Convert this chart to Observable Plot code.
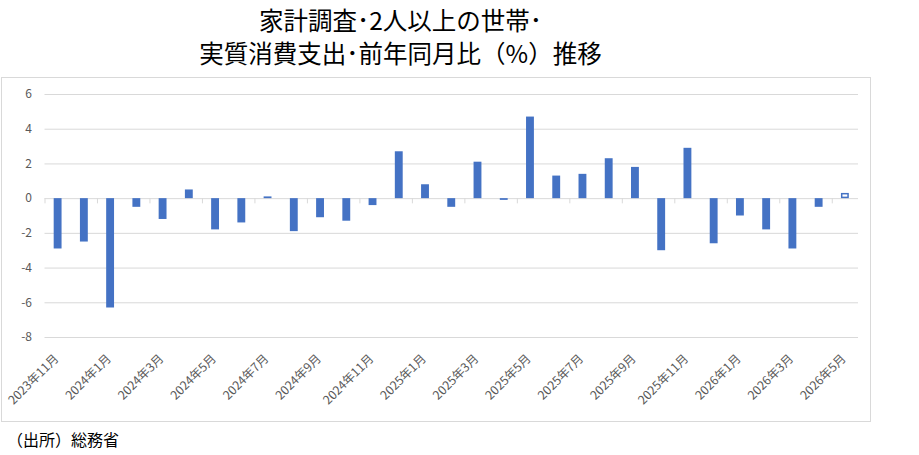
<!DOCTYPE html>
<html><head><meta charset="utf-8">
<script src="https://cdn.jsdelivr.net/npm/d3@7"></script>
<script src="https://cdn.jsdelivr.net/npm/@observablehq/plot@0.6"></script>
<style>
html,body{margin:0;padding:0;background:#fff;}
body{width:919px;height:455px;position:relative;overflow:hidden;font-family:"Noto Sans CJK JP","Noto Sans",sans-serif;}
#title{position:absolute;left:0;top:3px;width:801px;text-align:center;font-size:24.5px;line-height:33px;color:#000;}
#frame{position:absolute;left:1px;top:77px;width:870px;height:345px;border:1px solid #d9d9d9;box-sizing:border-box;}
#chart{position:absolute;left:0;top:77px;}
#caption{position:absolute;left:7px;top:429px;font-size:16px;line-height:20px;color:#000;}
</style></head><body>
<div id="title">家計調査･2人以上の世帯･<br>実質消費支出･前年同月比（%）推移</div>
<div id="frame"></div>
<div id="chart"></div>
<div id="caption">（出所）総務省</div>
<script>
const months = [
  "2023年11月","2023年12月","2024年1月","2024年2月","2024年3月","2024年4月","2024年5月","2024年6月",
  "2024年7月","2024年8月","2024年9月","2024年10月","2024年11月","2024年12月","2025年1月","2025年2月",
  "2025年3月","2025年4月","2025年5月","2025年6月","2025年7月","2025年8月","2025年9月","2025年10月",
  "2025年11月","2025年12月","2026年1月","2026年2月","2026年3月","2026年4月","2026年5月"
];
const values = [
  -2.9, -2.5, -6.3, -0.5, -1.2, 0.5, -1.8, -1.4,
  0.1, -1.9, -1.1, -1.3, -0.4, 2.7, 0.8, -0.5,
  2.1, -0.1, 4.7, 1.3, 1.4, 2.3, 1.8, -3.0,
  2.9, -2.6, -1.0, -1.8, -2.9, -0.5, 0.3
];
const provisional = months.map((m, i) => i === months.length - 1);
const yTicks = [-8, -6, -4, -2, 0, 2, 4, 6];
const xTickLabels = months.filter((m, i) => i % 2 === 0);

const data = months.map((m, i) => ({month: m, value: values[i], hollow: provisional[i]}));

const W = 870, H = 345, ML = 44.5, MR = 12;
const step = (W - ML - MR) / months.length;
const blue = "#4472C4", grid = "#d9d9d9", text = "#595959";

const chart = Plot.plot({
  width: W,
  height: H,
  marginLeft: ML,
  marginRight: MR,
  marginTop: 17,
  marginBottom: 85,
  style: {fontFamily: '"Noto Sans CJK JP","Noto Sans",sans-serif', background: "transparent", overflow: "visible"},
  x: {type: "band", domain: months, paddingInner: 0.7, paddingOuter: 0.35, round: false, axis: null, label: null},
  y: {domain: [-8, 6], axis: null, label: null},
  marks: [
    Plot.gridY(yTicks, {stroke: grid, strokeOpacity: 1, strokeWidth: 1}),
    Plot.ruleX(xTickLabels, {x: d => d, y1: 0, y2: -0.3, dx: -step / 2, stroke: grid, strokeWidth: 1}),
    Plot.barY(data.filter(d => !d.hollow), {x: "month", y: "value", fill: blue}),
    Plot.barY(data.filter(d => d.hollow), {x: "month", y: "value", fill: "white", stroke: blue, strokeWidth: 1.5, inset: 0.75}),
    Plot.axisY(yTicks, {tickSize: 0, tickPadding: 13, tickFormat: d => String(d), fontSize: 12, fill: text, label: null}),
    Plot.axisX(xTickLabels, {tickSize: 0, tickRotate: -45, tickPadding: 19, dx: -1.5, fontSize: 12.2, fill: text, label: null})
  ]
});
document.getElementById("chart").appendChild(chart);
</script>
</body></html>
